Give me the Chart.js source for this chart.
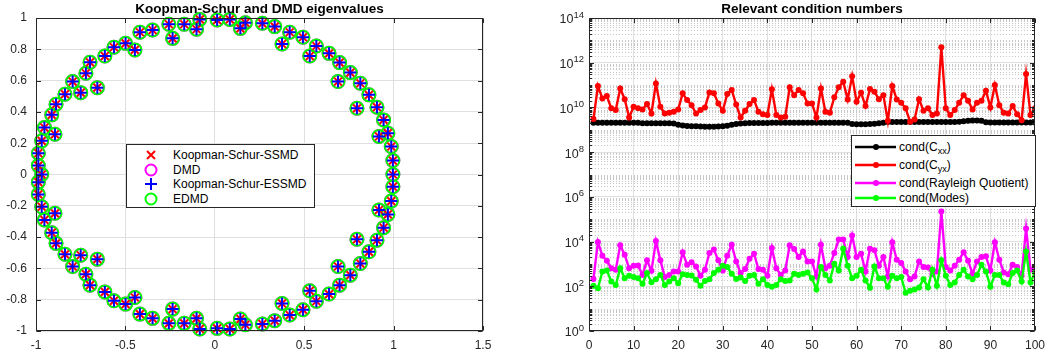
<!DOCTYPE html>
<html>
<head>
<meta charset="utf-8">
<script src="https://cdn.jsdelivr.net/npm/chart.js@4.4.1/dist/chart.umd.min.js"></script>
<style>
  body { margin: 0; background: #fff; font-family: "Liberation Sans", Arial, Helvetica, sans-serif; }
  #page { position: relative; width: 1052px; height: 360px; overflow: hidden; }
  .panel { position: absolute; top: 0; height: 360px; }
  #left { left: 0; width: 520px; }
  #right { left: 530px; width: 522px; }
  .legend { position: absolute; background: #fff; border: 1px solid #262626; font-size: 12px; color: #000; box-sizing: border-box; }
  .legend .row { position: absolute; left: 0; right: 0; height: 14px; line-height: 14px; white-space: nowrap; }
  .legend svg { position: absolute; top: 0; }
  .legend .txt { position: absolute; top: 0; }
  .legend sub { font-size: 9px; vertical-align: -3px; line-height: 0; }
  #legLeft { left: 126px; top: 144px; width: 189px; height: 64px; }
  #legRight { left: 851px; top: 135px; width: 185px; height: 72px; }
</style>
</head>
<body>
<div id="page">
  <div class="panel" id="left"><canvas id="eigChart"></canvas></div>
  <div class="panel" id="right"><canvas id="condChart"></canvas></div>

  <div class="legend" id="legLeft">
    <div class="row" style="top:3px">
      <svg width="20" height="14" style="left:14px"><path d="M6 3 L14 11 M14 3 L6 11" stroke="#ff0000" stroke-width="2"/></svg>
      <span class="txt" style="left:46px">Koopman-Schur-SSMD</span>
    </div>
    <div class="row" style="top:17.5px">
      <svg width="20" height="14" style="left:14px"><circle cx="10" cy="7" r="5.5" fill="none" stroke="#ff00ff" stroke-width="2"/></svg>
      <span class="txt" style="left:46px">DMD</span>
    </div>
    <div class="row" style="top:32px">
      <svg width="20" height="14" style="left:14px"><path d="M10 1 L10 13 M4 7 L16 7" stroke="#0000ff" stroke-width="2"/></svg>
      <span class="txt" style="left:46px">Koopman-Schur-ESSMD</span>
    </div>
    <div class="row" style="top:46.5px">
      <svg width="20" height="14" style="left:14px"><circle cx="10" cy="7" r="5.5" fill="none" stroke="#00ff00" stroke-width="2"/></svg>
      <span class="txt" style="left:46px">EDMD</span>
    </div>
  </div>

  <div class="legend" id="legRight">
    <div class="row" style="top:4px">
      <svg width="46" height="14" style="left:2px"><path d="M1 7 L42 7" stroke="#000" stroke-width="2.4"/><circle cx="22" cy="7" r="3" fill="#000"/></svg>
      <span class="txt" style="left:47px">cond(C<sub>xx</sub>)</span>
    </div>
    <div class="row" style="top:22px">
      <svg width="46" height="14" style="left:2px"><path d="M1 7 L42 7" stroke="#ff0000" stroke-width="2.4"/><circle cx="22" cy="7" r="3" fill="#ff0000"/></svg>
      <span class="txt" style="left:47px">cond(C<sub>yx</sub>)</span>
    </div>
    <div class="row" style="top:40px">
      <svg width="46" height="14" style="left:2px"><path d="M1 7 L42 7" stroke="#ff00ff" stroke-width="2.4"/><circle cx="22" cy="7" r="3" fill="#ff00ff"/></svg>
      <span class="txt" style="left:47px">cond(Rayleigh Quotient)</span>
    </div>
    <div class="row" style="top:55px">
      <svg width="46" height="14" style="left:2px"><path d="M1 7 L42 7" stroke="#00ff00" stroke-width="2.4"/><circle cx="22" cy="7" r="3" fill="#00ff00"/></svg>
      <span class="txt" style="left:47px">cond(Modes)</span>
    </div>
  </div>
</div>

<script>
// eigenvalues (same set is shown by all four methods)
const eigRe = [
  -0.987, -0.987, -0.968, -0.968, -0.953, -0.912, -0.888, -0.894, -0.838, -0.795,
  -0.750, -0.721, -0.698, -0.657, -0.615, -0.564, -0.499, -0.447, -0.419, -0.348,
  -0.257, -0.236, -0.171, -0.102, -0.084, 0.013, 0.084, 0.143, 0.171, 0.266,
  0.335, 0.376, 0.419, 0.493, 0.531, 0.568, 0.639, 0.698, 0.689, 0.758,
  0.814, 0.795, 0.862, 0.907, 0.944, 0.918, 0.968, 0.987, 0.996, 0.996,
  -0.987, -0.987, -0.968, -0.953, -0.912, -0.888, -0.894, -0.838, -0.795,
  -0.750, -0.721, -0.698, -0.657, -0.615, -0.564, -0.499, -0.447, -0.419, -0.348,
  -0.257, -0.236, -0.171, -0.102, -0.084, 0.013, 0.084, 0.143, 0.171, 0.266,
  0.335, 0.376, 0.419, 0.493, 0.531, 0.568, 0.639, 0.698, 0.689, 0.758,
  0.814, 0.795, 0.862, 0.907, 0.944, 0.918, 0.968, 0.987, 0.996
]
const eigIm = [
  0.136, 0.057, 0.000, 0.215, 0.300, 0.381, 0.449, 0.257, 0.513, 0.594,
  0.523, 0.647, 0.717, 0.555, 0.757, 0.813, 0.838, 0.796, 0.909, 0.923,
  0.960, 0.870, 0.960, 0.928, 0.991, 0.987, 0.991, 0.934, 0.970, 0.966,
  0.945, 0.834, 0.909, 0.877, 0.757, 0.821, 0.774, 0.715, 0.594, 0.651,
  0.583, 0.423, 0.509, 0.430, 0.349, 0.243, 0.264, 0.179, 0.089, 0.000,
  -0.127, -0.049, -0.206, -0.290, -0.372, -0.440, -0.248, -0.510, -0.588,
  -0.516, -0.637, -0.707, -0.541, -0.750, -0.807, -0.828, -0.786, -0.892, -0.919,
  -0.951, -0.860, -0.951, -0.919, -0.987, -0.983, -0.987, -0.923, -0.960, -0.955,
  -0.934, -0.824, -0.898, -0.864, -0.743, -0.810, -0.764, -0.707, -0.588, -0.643,
  -0.569, -0.414, -0.494, -0.420, -0.340, -0.227, -0.255, -0.170, -0.078
]

const eigXTicks = [-1, -0.5, 0, 0.5, 1, 1.5]

// condition numbers per run, stored as log10 exponents
const runs = Array.from({length: 100}, (_, i) => i + 1)
const condCxxExp = [
  9.31, 9.31, 9.31, 9.31, 9.31, 9.31, 9.31, 9.31, 9.31, 9.31,
  9.31, 9.29, 9.29, 9.29, 9.29, 9.29, 9.29, 9.29, 9.28, 9.22,
  9.19, 9.17, 9.16, 9.16, 9.15, 9.14, 9.14, 9.14, 9.15, 9.16,
  9.18, 9.22, 9.26, 9.28, 9.29, 9.30, 9.30, 9.30, 9.30, 9.30,
  9.31, 9.31, 9.31, 9.31, 9.31, 9.31, 9.31, 9.31, 9.31, 9.31,
  9.31, 9.31, 9.31, 9.31, 9.31, 9.31, 9.31, 9.31, 9.26, 9.25,
  9.25, 9.25, 9.26, 9.27, 9.29, 9.31, 9.35, 9.35, 9.35, 9.35,
  9.35, 9.35, 9.35, 9.35, 9.35, 9.35, 9.35, 9.35, 9.35, 9.35,
  9.35, 9.35, 9.36, 9.38, 9.40, 9.42, 9.42, 9.40, 9.34, 9.33,
  9.33, 9.33, 9.33, 9.33, 9.33, 9.33, 9.33, 9.33, 9.33, 9.33
]
const condCyxExp = [
  9.48, 10.96, 10.40, 10.51, 9.96, 9.88, 10.85, 10.37, 9.55, 10.03,
  9.96, 9.91, 10.15, 9.73, 11.07, 10.03, 9.73, 9.76, 9.81, 9.91,
  10.63, 10.33, 10.10, 9.73, 9.88, 10.00, 10.67, 10.63, 10.18, 9.85,
  10.60, 10.78, 10.13, 9.55, 9.85, 10.15, 10.33, 9.81, 9.70, 9.66,
  10.81, 9.66, 9.55, 9.58, 10.90, 10.55, 10.78, 10.63, 10.18, 10.18,
  9.55, 10.85, 9.81, 9.76, 10.45, 10.90, 11.15, 10.36, 11.40, 10.25,
  10.66, 10.06, 10.82, 10.70, 10.37, 10.55, 9.40, 10.96, 10.36, 10.21,
  9.96, 9.36, 9.46, 10.37, 9.85, 9.96, 9.66, 9.73, 12.69, 9.96,
  9.66, 9.88, 10.21, 10.55, 10.30, 9.91, 10.21, 10.30, 10.75, 10.00,
  11.00, 10.10, 9.76, 9.73, 10.06, 9.70, 9.43, 11.49, 9.66, 9.96
]
const condRqExp = [
  2.33, 3.98, 3.37, 3.14, 2.81, 2.74, 3.83, 3.41, 2.81, 2.92,
  2.93, 2.51, 3.16, 2.69, 4.02, 3.16, 2.41, 2.51, 2.66, 2.66,
  3.52, 2.96, 3.08, 2.89, 2.47, 2.74, 3.49, 3.64, 3.16, 2.71,
  3.37, 3.86, 3.11, 2.59, 2.77, 3.23, 3.46, 2.77, 2.74, 2.47,
  3.71, 2.81, 2.51, 2.71, 3.83, 3.67, 3.31, 3.56, 3.11, 3.11,
  2.44, 3.86, 2.81, 2.92, 3.49, 4.09, 4.09, 3.31, 4.27, 3.31,
  3.46, 2.66, 3.68, 3.61, 2.92, 3.31, 2.44, 3.97, 3.19, 3.04,
  2.66, 2.32, 2.44, 3.11, 2.86, 2.84, 2.54, 2.66, 5.34, 2.86,
  2.71, 2.92, 3.19, 3.52, 3.14, 2.56, 3.11, 3.31, 3.34, 2.71,
  3.97, 3.19, 2.62, 2.54, 2.96, 2.86, 2.47, 4.59, 2.74, 2.86
]
const condModesExp = [
  2.02, 1.91, 2.66, 2.71, 2.21, 2.06, 2.81, 2.36, 2.47, 2.41,
  2.36, 2.11, 2.59, 2.18, 2.32, 2.51, 2.06, 2.21, 2.36, 2.14,
  2.54, 2.51, 2.48, 2.29, 2.02, 2.24, 2.32, 2.59, 2.74, 2.92,
  2.86, 2.56, 2.33, 2.39, 2.24, 2.47, 2.51, 2.11, 2.32, 2.06,
  1.98, 2.06, 2.32, 2.24, 2.26, 2.56, 2.51, 2.56, 2.62, 2.36,
  1.86, 2.86, 2.51, 2.26, 3.01, 2.71, 3.68, 2.92, 2.36, 2.47,
  2.74, 2.26, 1.94, 2.89, 2.36, 2.36, 1.98, 2.47, 2.36, 2.41,
  1.71, 1.80, 1.86, 1.95, 2.32, 1.95, 2.74, 2.02, 3.16, 2.47,
  2.06, 2.17, 2.51, 2.74, 2.44, 2.32, 2.51, 2.96, 2.66, 1.98,
  2.51, 2.51, 2.17, 2.09, 2.59, 2.71, 2.21, 3.56, 2.17, 2.62
]
const condTickExps = [0, 2, 4, 6, 8, 10, 12, 14]

const FONT = '"Liberation Sans", Arial, Helvetica, sans-serif'
const axisColor = '#262626'
const gridColor = '#dfdfdf'

Chart.defaults.font.family = FONT
Chart.defaults.animation = false

const eigPoints = eigRe.map((re, i) => ({x: re, y: eigIm[i]}))
const condPoints = (exps) => exps.map((e, i) => ({x: runs[i], y: Math.pow(10, e)}))
const roundLabel = (v) => String(Math.round(v * 10) / 10)

// box round the axes, inward tick marks, minor log grid and the title
const framePlugin = {
  id: 'frame',
  beforeDatasetsDraw(chart, args, opts) {
    if (!opts.minorLog) return
    const {ctx, chartArea: a} = chart
    const y = chart.scales.y
    ctx.save()
    ctx.strokeStyle = '#c8c8c8'
    ctx.lineWidth = 1
    ctx.setLineDash([1, 2])
    for (let n = 0; n < 14; n++) {
      for (let m = 1; m <= 9; m++) {
        if (m === 1 && n % 2 === 0) continue
        const py = Math.round(y.getPixelForValue(m * Math.pow(10, n))) + 0.5
        ctx.beginPath()
        ctx.moveTo(a.left, py)
        ctx.lineTo(a.right, py)
        ctx.stroke()
      }
    }
    ctx.restore()
  },
  afterDatasetsDraw(chart, args, opts) {
    const {ctx, chartArea: a} = chart
    const L = Math.round(a.left) + 0.5, R = Math.round(a.right) - 0.5
    const T = Math.round(a.top) + 0.5, B = Math.round(a.bottom) - 0.5
    ctx.save()
    ctx.strokeStyle = axisColor
    ctx.lineWidth = 1
    ctx.beginPath()
    chart.scales.x.ticks.forEach(t => {
      const px = Math.round(chart.scales.x.getPixelForValue(t.value)) + 0.5
      ctx.moveTo(px, B); ctx.lineTo(px, B - 4.5)
      ctx.moveTo(px, T); ctx.lineTo(px, T + 4.5)
    })
    chart.scales.y.ticks.forEach(t => {
      const py = Math.round(chart.scales.y.getPixelForValue(t.value)) + 0.5
      ctx.moveTo(L, py); ctx.lineTo(L + 4.5, py)
      ctx.moveTo(R, py); ctx.lineTo(R - 4.5, py)
    })
    if (opts.minorLog) {
      for (let n = 0; n < 14; n++) {
        for (let m = 1; m <= 9; m++) {
          if (m === 1 && n % 2 === 0) continue
          const py = Math.round(chart.scales.y.getPixelForValue(m * Math.pow(10, n))) + 0.5
          ctx.moveTo(L, py); ctx.lineTo(L + 2.5, py)
          ctx.moveTo(R, py); ctx.lineTo(R - 2.5, py)
        }
      }
    }
    ctx.stroke()
    ctx.strokeRect(L, T, R - L, B - T)
    ctx.restore()
  },
  afterDraw(chart, args, opts) {
    const {ctx, chartArea: a} = chart
    ctx.save()
    ctx.fillStyle = '#000'
    ctx.font = `bold 13.5px ${FONT}`
    ctx.textAlign = 'center'
    ctx.textBaseline = 'alphabetic'
    ctx.fillText(opts.title, (a.left + a.right) / 2, 13)
    if (opts.minorLog) {
      const y = chart.scales.y
      ctx.fillStyle = axisColor
      ctx.textBaseline = 'middle'
      condTickExps.forEach(e => {
        const py = y.getPixelForValue(Math.pow(10, e))
        const sup = String(e)
        ctx.font = `9.5px ${FONT}`
        const w = ctx.measureText(sup).width
        const xr = a.left - 5
        ctx.textAlign = 'left'
        ctx.fillText(sup, xr - w, py - 3)
        ctx.font = `12.5px ${FONT}`
        ctx.textAlign = 'right'
        ctx.fillText('10', xr - w, py + 2)
      })
    }
    ctx.restore()
  }
}

new Chart(document.getElementById('eigChart'), {
  type: 'scatter',
  data: {
    datasets: [
      {label: 'Koopman-Schur-ESSMD', data: eigPoints, order: 0, clip: false,
        pointStyle: 'cross', pointRadius: 6, borderColor: '#0000ff', backgroundColor: '#0000ff', pointBorderWidth: 2},
      {label: 'Koopman-Schur-SSMD', data: eigPoints, order: 1, clip: false,
        pointStyle: 'crossRot', pointRadius: 5.5, borderColor: '#ff0000', backgroundColor: '#ff0000', pointBorderWidth: 2},
      {label: 'EDMD', data: eigPoints, order: 2, clip: false,
        pointStyle: 'circle', pointRadius: 6.5, borderColor: '#00ff00', backgroundColor: 'rgba(0,0,0,0)', pointBorderWidth: 2},
      {label: 'DMD', data: eigPoints, order: 3, clip: false,
        pointStyle: 'circle', pointRadius: 6.5, borderColor: '#ff00ff', backgroundColor: 'rgba(0,0,0,0)', pointBorderWidth: 2}
    ]
  },
  options: {
    responsive: true,
    maintainAspectRatio: false,
    layout: {padding: {top: 18, right: 37, left: 0, bottom: 0}},
    plugins: {
      legend: {display: false},
      tooltip: {enabled: false},
      frame: {title: 'Koopman-Schur and DMD eigenvalues'}
    },
    scales: {
      x: {
        type: 'linear', min: -1, max: 1.5,
        afterBuildTicks: (s) => { s.ticks = eigXTicks.map(v => ({value: v})) },
        afterFit: (s) => { s.height = 29 },
        grid: {color: gridColor, drawTicks: false},
        border: {display: false},
        ticks: {color: axisColor, font: {size: 12}, padding: 7, callback: roundLabel}
      },
      y: {
        type: 'linear', min: -1, max: 1,
        ticks: {stepSize: 0.2, color: axisColor, font: {size: 12}, padding: 9, callback: roundLabel},
        afterFit: (s) => { s.width = 36 },
        grid: {color: gridColor, drawTicks: false},
        border: {display: false}
      }
    }
  },
  plugins: [framePlugin]
})

const lineSet = (label, exps, color, order) => ({
  label, data: condPoints(exps), order,
  borderColor: color, backgroundColor: color, borderWidth: 2.4,
  pointRadius: 3, pointBorderWidth: 0, pointBackgroundColor: color,
  tension: 0
})

new Chart(document.getElementById('condChart'), {
  type: 'line',
  data: {
    datasets: [
      lineSet('cond(Modes)', condModesExp, '#00ff00', 1),
      lineSet('cond(Rayleigh Quotient)', condRqExp, '#ff00ff', 2),
      lineSet('cond(Cyx)', condCyxExp, '#ff0000', 3),
      lineSet('cond(Cxx)', condCxxExp, '#000000', 4)
    ]
  },
  options: {
    responsive: true,
    maintainAspectRatio: false,
    layout: {padding: {top: 18, right: 16, left: 0, bottom: 0}},
    plugins: {
      legend: {display: false},
      tooltip: {enabled: false},
      frame: {title: 'Relevant condition numbers', minorLog: true}
    },
    scales: {
      x: {
        type: 'linear', min: 0, max: 100,
        ticks: {stepSize: 10, color: axisColor, font: {size: 12}, padding: 7},
        afterFit: (s) => { s.height = 29 },
        grid: {color: gridColor, drawTicks: false},
        border: {display: false}
      },
      y: {
        type: 'logarithmic', min: 1, max: 1e14,
        afterBuildTicks: (s) => { s.ticks = condTickExps.map(e => ({value: Math.pow(10, e)})) },
        afterFit: (s) => { s.width = 59 },
        ticks: {display: false},
        grid: {color: gridColor, drawTicks: false},
        border: {display: false}
      }
    }
  },
  plugins: [framePlugin]
})
</script>
</body>
</html>
